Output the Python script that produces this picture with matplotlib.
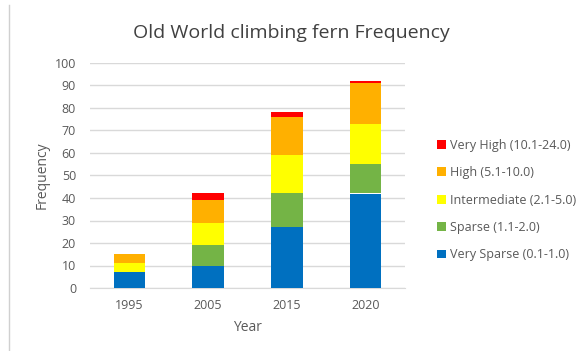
import matplotlib
matplotlib.use("Agg")
import matplotlib.pyplot as plt
from matplotlib.lines import Line2D
import numpy as np

plt.rcParams['font.family'] = ['Open Sans', 'DejaVu Sans']

years = ["1995", "2005", "2015", "2020"]
very_sparse = [7, 10, 27, 42]
sparse = [0, 9, 15, 13]
intermediate = [4, 10, 17, 18]
high = [4, 10, 17, 18]
very_high = [0, 3, 2, 1]

series = [
    ("Very Sparse (0.1-1.0)", very_sparse, "#0070C0"),
    ("Sparse (1.1-2.0)", sparse, "#74B446"),
    ("Intermediate (2.1-5.0)", intermediate, "#FFFF00"),
    ("High (5.1-10.0)", high, "#FFB000"),
    ("Very High (10.1-24.0)", very_high, "#FF0000"),
]

fig = plt.figure(figsize=(5.83, 3.51), dpi=100)
ax = fig.add_axes([90 / 583, 1 - 288 / 351, 315 / 583, 225 / 351])

x = np.arange(len(years))
bottom = np.zeros(len(years))
handles = []
for label, vals, color in series:
    vals = np.array(vals, dtype=float)
    b = ax.bar(x, vals, bottom=bottom, width=0.4, color=color, label=label, zorder=3)
    bottom += vals
    handles.append(b)

ax.set_xlim(-0.5, len(years) - 0.5)
ax.set_ylim(0, 100)
ax.set_yticks(np.arange(0, 101, 10))
ax.set_xticks(x)
ax.set_xticklabels(years)
ax.grid(axis='y', color='#D9D9D9', linewidth=1, zorder=0)
for s in ['top', 'right', 'left']:
    ax.spines[s].set_visible(False)
ax.spines['bottom'].set_color('#D9D9D9')
ax.tick_params(axis='both', length=0, labelsize=9, colors='#595959')
ax.tick_params(axis='y', pad=10)
ax.tick_params(axis='x', pad=8)

ax.set_xlabel("Year", fontsize=10, color='#595959', labelpad=6)
ax.set_ylabel("Frequency", fontsize=10, color='#595959', labelpad=4)

fig.text(0.5, 1 - 33 / 351, "Old World climbing fern Frequency", ha='center', va='center',
         fontsize=14, color='#404040')

leg = fig.legend(handles=handles[::-1], labels=[s[0] for s in series][::-1],
                 loc='center left', bbox_to_anchor=(426 / 583, 1 - 200 / 351),
                 frameon=False, fontsize=9, handlelength=0.7, handleheight=0.7,
                 handletextpad=0.3, labelspacing=1.15, labelcolor='#595959')

fig.add_artist(Line2D([9 / 583, 9 / 583], [0.0, 1 - 5 / 351], transform=fig.transFigure,
                      color='#D0D0D0', linewidth=1))

fig.savefig("out.png", dpi=100)
